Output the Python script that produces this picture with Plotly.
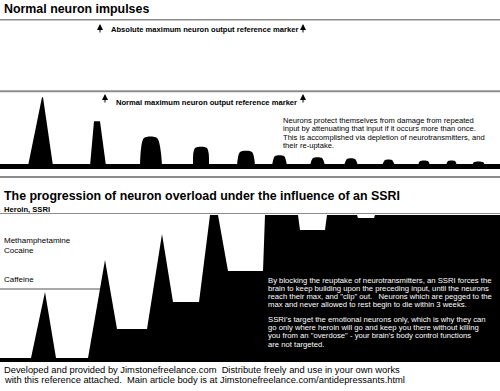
import plotly.graph_objects as go

W, H = 500, 391

# ---------------- data ----------------
# Top panel: normal neuron impulses (time position, amplitude above baseline)
top_pulse_start = [28, 90, 140, 193, 237, 272, 310, 344, 382, 418, 446, 472]
top_pulse_top_left = [42, 94, 144, 195, 240, 275, 313, 347, 385, 420, 448, 474]
top_pulse_top_right = [43, 100, 157, 207, 252, 284, 322, 355, 392, 428, 455, 483]
top_pulse_end = [53, 106, 162, 209, 255, 287, 325, 358, 395, 430, 457, 485]
top_pulse_height = [69, 45, 28, 18, 14, 10, 8, 7, 6, 5, 5, 4]
top_absolute_max = 147
top_normal_max = 75

# Bottom panel: progression of neuron overload under an SSRI
ssri_time = [0, 31, 45, 56, 88, 105, 117, 147, 162, 173, 199, 210, 218, 228,
             263, 265, 298, 300, 325, 327, 357, 358, 374, 375, 500]
ssri_level = [0, 0, 66, 0, 0, 98, 29, 29, 124, 56, 56, 143, 143, 87,
              87, 143, 143, 128, 128, 143, 143, 140, 140, 143, 143]
heroin_level = 145
caffeine_level = 69

level_labels = ["Heroin, SSRI", "Methamphetamine", "Cocaine", "Caffeine"]

top_note = [
    "Neurons protect themselves from damage from repeated",
    "input by attenuating that input if it occurs more than once.",
    "This is accomplished via depletion of neurotransmitters, and",
    "their re-uptake.",
]
ssri_note = [
    "By blocking the reuptake of neurotransmitters, an SSRI forces the",
    "brain to keep building upon the preceding input, until the neurons",
    "reach their max, and \"clip\" out.\u00a0\u00a0 Neurons which are pegged to the",
    "max and never allowed to rest begin to die within 3 weeks.",
    "SSRI's target the emotional neurons only, which is why they can",
    "go only where heroin will go and keep you there without killing",
    "you from an \"overdose\" - your brain's body control functions",
    "are not targeted.",
]
footer = [
    "Developed and provided by Jimstonefreelance.com\u00a0 Distribute freely and use in your own works",
    "with this reference attached.\u00a0 Main article body is at Jimstonefreelance.com/antidepressants.html",
]

# ---------------- figure ----------------
def py(p):
    return 1 - p / H

fig = go.Figure()

# top baseline band
fig.add_trace(go.Scatter(x=[0, 500, 500, 0], y=[-3, -3, 2, 2], fill="toself",
                         fillcolor="black", line=dict(width=0), mode="lines",
                         xaxis="x", yaxis="y", hoverinfo="skip"))
for i in range(len(top_pulse_start)):
    xs = [top_pulse_start[i], top_pulse_top_left[i], top_pulse_top_right[i], top_pulse_end[i]]
    ys = [0, top_pulse_height[i], top_pulse_height[i], 0]
    fig.add_trace(go.Scatter(
        x=xs, y=ys, fill="toself", fillcolor="black", mode="lines",
        line=dict(width=0, color="black", shape="linear" if i < 2 else "spline", smoothing=0.8),
        xaxis="x", yaxis="y", hoverinfo="skip"))

# bottom SSRI signal polygon
bx = list(ssri_time) + [ssri_time[-1], ssri_time[0]]
by = list(ssri_level) + [-4, -4]
fig.add_trace(go.Scatter(x=bx, y=by, fill="toself", fillcolor="black", mode="lines",
                         line=dict(width=0, color="black"), xaxis="x", yaxis="y2",
                         hoverinfo="skip"))

gray = "#8c8c8c"
shapes = [
    dict(type="line", xref="x", yref="y", x0=0, x1=500, y0=top_absolute_max, y1=top_absolute_max,
         line=dict(color=gray, width=2), layer="below"),
    dict(type="line", xref="x", yref="y", x0=0, x1=500, y0=top_normal_max, y1=top_normal_max,
         line=dict(color=gray, width=2), layer="below"),
    dict(type="line", xref="x", yref="paper", x0=0, x1=500, y0=py(177), y1=py(177),
         line=dict(color=gray, width=2), layer="below"),
    dict(type="line", xref="x", yref="y2", x0=0, x1=500, y0=heroin_level, y1=heroin_level,
         line=dict(color=gray, width=2), layer="below"),
    dict(type="line", xref="x", yref="y2", x0=0, x1=100, y0=caffeine_level, y1=caffeine_level,
         line=dict(color=gray, width=1.5), layer="below"),
]

FONT = "Liberation Sans"
ann = []

def txt(x, ypix, s, size, color="black", bold=False, family=FONT):
    ann.append(dict(x=x, y=py(ypix), xref="x", yref="paper", text=("<b>%s</b>" % s) if bold else s,
                    showarrow=False, xanchor="left", yanchor="middle",
                    font=dict(family=family, size=size, color=color)))

txt(2, 9, "Normal neuron impulses", 12.4, bold=True)
txt(109, 30, "Absolute maximum neuron output reference marker", 7.6, bold=True)
txt(114, 103, "Normal maximum neuron output reference marker", 7.6, bold=True)
for k, line in enumerate(top_note):
    txt(281, 120.5 + k * 8.4, line, 7.6)

txt(2, 196, "The progression of neuron overload under the influence of an SSRI", 12.4, bold=True)
txt(2, 209.5, level_labels[0], 7.6, bold=True)
txt(2, 240, level_labels[1], 8)
txt(2, 250, level_labels[2], 8)
txt(2, 279, level_labels[3], 8)

for k, line in enumerate(ssri_note[:4]):
    txt(266, 280 + k * 8.3, line, 7.7, color="white")
for k, line in enumerate(ssri_note[4:]):
    txt(266, 319 + k * 8.4, line, 7.7, color="white")

txt(2, 370, footer[0], 9.35)
txt(2, 379.5, footer[1], 9.35)

# arrows
for (ax_x, y_tip, y_tail) in [(100, 24, 34), (303, 24, 34), (105, 94, 104), (303, 94, 104)]:
    ann.append(dict(x=ax_x, y=py(y_tip), xref="x", yref="paper", ax=0, ay=(y_tail - y_tip),
                    axref="pixel", ayref="pixel", showarrow=True, arrowhead=2, arrowsize=1.2,
                    arrowwidth=1, arrowcolor="black", text=""))

fig.update_layout(
    width=W, height=H, autosize=False,
    margin=dict(l=0, r=0, t=0, b=0, pad=0),
    paper_bgcolor="white", plot_bgcolor="white",
    showlegend=False, hovermode=False,
    xaxis=dict(range=[0, 500], visible=False, fixedrange=True),
    yaxis=dict(range=[-11, 147 + 0.5], domain=[214 / H, 372 / H], visible=False, fixedrange=True),
    yaxis2=dict(range=[-5, 145], domain=[28 / H, 178 / H], visible=False, fixedrange=True),
    shapes=shapes, annotations=ann,
)

fig.write_html("out.html", config={"displayModeBar": False, "staticPlot": True},
               post_script="document.body.style.margin='0';")
